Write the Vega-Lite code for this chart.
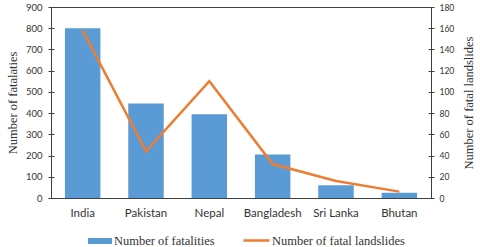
{
  "$schema": "https://vega.github.io/schema/vega-lite/v6.json",
  "autosize": {"type": "none"},
  "padding": {"left": 51, "top": 7, "right": 49, "bottom": 49},
  "width": 380,
  "height": 191,
  "background": "white",
  "config": {
    "view": {"stroke": "#404040", "strokeWidth": 1},
    "axis": {"domain": false, "labelFont": "Lato", "labelColor": "#333333", "titleFont": "Liberation Serif", "titleFontWeight": "normal", "titleColor": "#333333", "grid": false, "tickColor": "#404040"},
    "legend": {"labelFont": "Liberation Serif", "labelFontSize": 12.5, "labelColor": "#333333", "padding": 0}
  },
  "data": {"values": [
    {"country": "India", "fatalities": 800, "landslides": 158},
    {"country": "Pakistan", "fatalities": 445, "landslides": 44},
    {"country": "Nepal", "fatalities": 395, "landslides": 110},
    {"country": "Bangladesh", "fatalities": 205, "landslides": 32},
    {"country": "Sri Lanka", "fatalities": 60, "landslides": 16},
    {"country": "Bhutan", "fatalities": 25, "landslides": 6}
  ]},
  "encoding": {
    "x": {"field": "country", "type": "nominal", "sort": null,
      "scale": {"paddingInner": 0.44, "paddingOuter": 0.22},
      "axis": {"title": null, "labelAngle": 0, "ticks": false, "labelPadding": 9, "labelFontSize": 11.5}}
  },
  "layer": [
    {
      "mark": {"type": "bar"},
      "encoding": {
        "y": {"field": "fatalities", "type": "quantitative",
          "scale": {"domain": [0, 900], "nice": false},
          "axis": {"title": "Number of fatalaties", "values": [0,100,200,300,400,500,600,700,800,900], "offset": -3, "tickSize": 6, "labelPadding": 6, "labelFontSize": 9.5, "titleFontSize": 12.5, "titlePadding": 6}},
        "fill": {"datum": "Number of fatalities", "scale": {"range": ["#5B9BD5"]},
          "legend": {"title": null, "orient": "none", "legendX": 37, "legendY": 222, "symbolType": "M-1,-0.25H1V0.25H-1Z", "symbolSize": 576, "symbolStrokeWidth": 0, "labelOffset": 2}}
      }
    },
    {
      "mark": {"type": "line", "strokeWidth": 2.5},
      "encoding": {
        "y": {"field": "landslides", "type": "quantitative",
          "scale": {"domain": [0, 180], "nice": false},
          "axis": {"orient": "right", "title": "Number of fatal landslides", "titleAngle": 270, "values": [0,20,40,60,80,100,120,140,160,180], "offset": -3, "tickSize": 6, "labelPadding": 5, "labelFontSize": 8.5, "titleFontSize": 12.5, "titlePadding": 22}},
        "stroke": {"datum": "Number of fatal landslides", "scale": {"range": ["#ED7D31"]},
          "legend": {"title": null, "orient": "none", "legendX": 191, "legendY": 219, "symbolSize": 676, "symbolStrokeWidth": 2.5, "labelOffset": 1}}
      }
    }
  ],
  "resolve": {"scale": {"y": "independent"}}
}
